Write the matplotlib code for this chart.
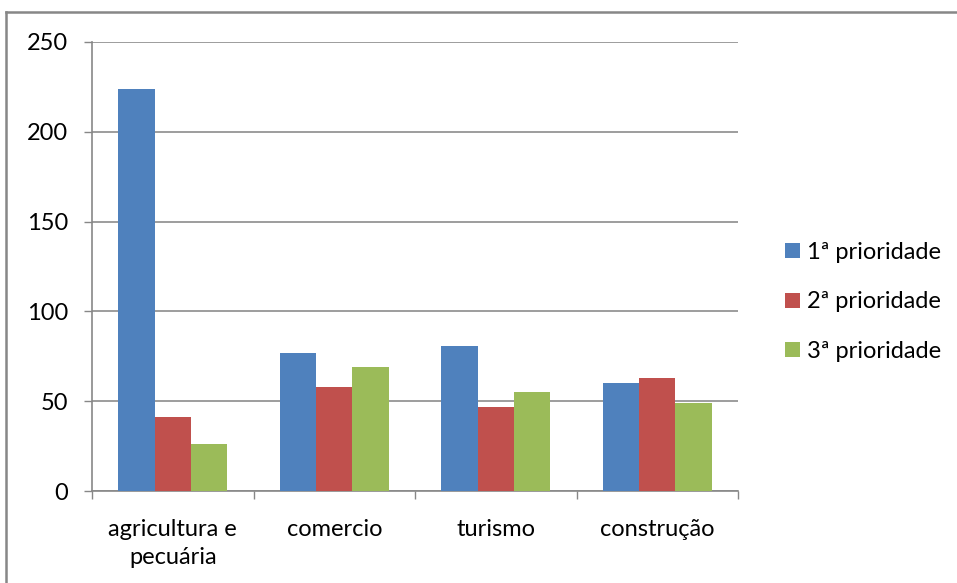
import matplotlib
matplotlib.use("Agg")
import matplotlib.pyplot as plt
import numpy as np
from matplotlib.lines import Line2D

# data
categories = ["agricultura e\npecuária", "comercio", "turismo", "construção"]
series_names = ["1ª prioridade", "2ª prioridade", "3ª prioridade"]
first_priority = [224, 77, 81, 60]
second_priority = [41, 58, 47, 63]
third_priority = [26, 69, 55, 49]
y_ticks = [0, 50, 100, 150, 200, 250]

colors = ["#4f81bd", "#c0504d", "#9bbb59"]
W, H = 957, 583
FS = 17

plt.rcParams["font.family"] = ["Lato", "DejaVu Sans"]

fig = plt.figure(figsize=(W / 100, H / 100), dpi=100)
ax = fig.add_axes([92 / W, (H - 491) / H, (738 - 92) / W, (491 - 42) / H])

x = np.arange(len(categories))
bar_w = 0.224
for i, (vals, name, c) in enumerate(
    zip([first_priority, second_priority, third_priority], series_names, colors)
):
    ax.bar(x + (i - 1) * bar_w, vals, width=bar_w, color=c, label=name,
           edgecolor="none", zorder=3)

ax.set_xlim(-0.5, len(categories) - 0.5)
ax.set_ylim(0, 250)
ax.set_yticks(y_ticks)
ax.set_yticklabels([str(v) for v in y_ticks])

# category labels centred, ticks at category boundaries
ax.set_xticks(x)
ax.set_xticklabels(categories, fontsize=FS, linespacing=1.45)
ax.tick_params(axis="x", length=0, pad=20)
ax.set_xticks(np.arange(-0.5, len(categories)), minor=True)
ax.tick_params(axis="x", which="minor", length=6, color="#878787", width=1)
ax.tick_params(axis="y", length=6, color="#878787", width=1, pad=11, labelsize=FS)

ax.yaxis.grid(True, color="#8c8c8c", lw=1.2, zorder=0)
ax.set_axisbelow(True)
for s in ["top", "right"]:
    ax.spines[s].set_visible(False)
for s in ["left", "bottom"]:
    ax.spines[s].set_color("#878787")
    ax.spines[s].set_linewidth(1.2)

ax.legend(loc="center left", bbox_to_anchor=(776 / W, 1 - 302 / H),
          bbox_transform=fig.transFigure, frameon=False, fontsize=FS,
          handlelength=0.6, handleheight=0.6, handletextpad=0.3,
          labelspacing=1.2, borderaxespad=0)

# outer chart frame (only top and left edges visible)
fig.add_artist(Line2D([6 / W, 6 / W], [0, 1 - 12 / H], color="#878787", lw=1.8,
                      transform=fig.transFigure))
fig.add_artist(Line2D([6 / W, 1], [1 - 12 / H, 1 - 12 / H], color="#878787", lw=1.8,
                      transform=fig.transFigure))

fig.savefig("out.png", dpi=100)
